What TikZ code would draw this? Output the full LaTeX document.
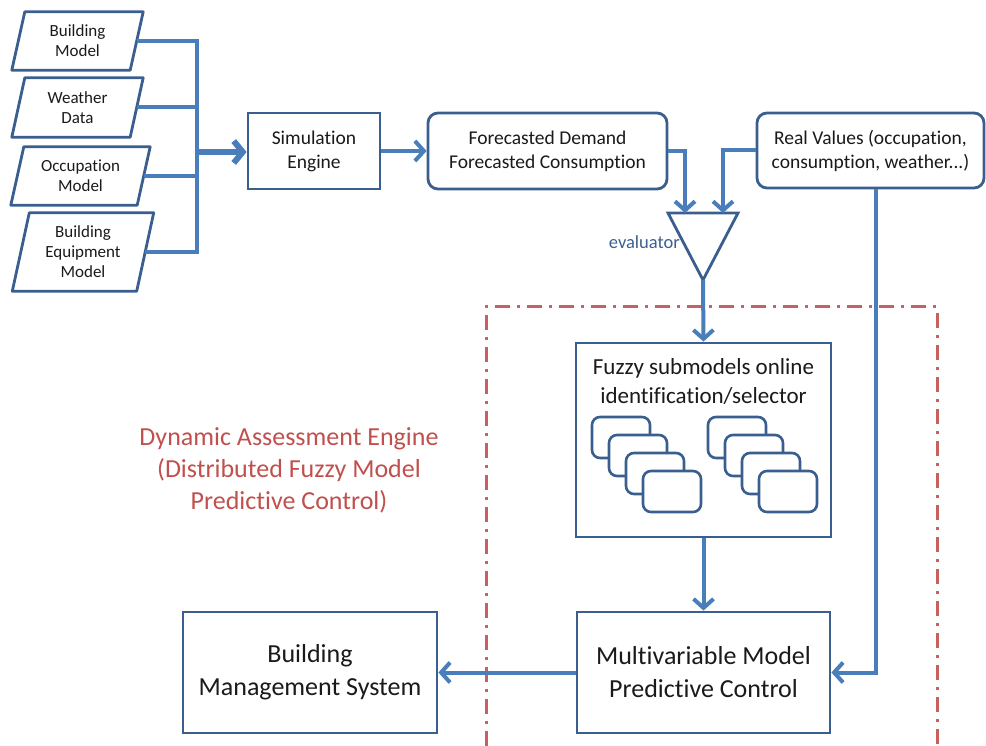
\documentclass[tikz,border=0pt]{standalone}
\usepackage{fontspec}
\setmainfont{Carlito}[Ligatures=NoCommon]
\usetikzlibrary{arrows.meta,calc}
\definecolor{boxc}{HTML}{3A5F8F}
\definecolor{conc}{HTML}{4A7EBB}
\definecolor{txt}{HTML}{1A1A1A}
\definecolor{redc}{HTML}{C0504D}
\definecolor{evc}{HTML}{3B5F8F}
\begin{document}
\begin{tikzpicture}[x=1pt,y=-1pt,
  box/.style={draw=boxc, line width=2.8pt, fill=white, align=center, inner sep=0pt, text=txt},
  rbox/.style={box, rounded corners=10pt},
  pnode/.style={inner sep=0pt, align=center, text=txt, font=\fontsize{17}{20}\selectfont},
  pshape/.style={draw=boxc, line width=2.8pt, line join=round},
  conn/.style={draw=conc, line width=4pt},
  arr/.style={conn, -{Straight Barb[length=9pt,width=20pt]}},
  sub/.style={draw=boxc, line width=2.6pt, fill=white, rounded corners=8pt},
  dadot/.style={draw=redc!90, line width=3pt, dash pattern=on 15pt off 7pt on 3pt off 7pt}
]
\useasboundingbox (0,0) rectangle (986,746);

% input parallelograms
\node[pnode, minimum width=118pt, minimum height=58pt] (bm) at (77.5,41) {Building\\Model};
\node[pnode, minimum width=118pt, minimum height=59pt] (wd) at (77.5,107.5) {Weather\\Data};
\node[pnode, minimum width=126pt, minimum height=58pt] (om) at (80.5,176) {Occupation\\Model};
\node[pnode, minimum width=124pt, minimum height=78pt] (be) at (83,252) {Building\\Equipment\\Model};
\foreach \n/\s in {bm/6.5, wd/6.5, om/6.5, be/8.5}{
  \draw[pshape] ($(\n.south west)+(-\s,0)$) -- ($(\n.north west)+(\s,0)$) -- ($(\n.north east)+(\s,0)$) -- ($(\n.south east)+(-\s,0)$) -- cycle;
}

% bus
\coordinate (busx) at (197,0);
\foreach \n in {bm,wd,om,be}{
  \draw[conn] (\n.east) -- (\n.east -| busx);
}
\draw[conn, line cap=rect] (bm.east -| busx) -- (be.east -| busx);

% main boxes
\node[box, minimum width=132pt, minimum height=76pt, font=\fontsize{19.5}{24}\selectfont] (sim) at (314,151) {Simulation\\Engine};
\node[rbox, minimum width=239pt, minimum height=76pt, font=\fontsize{19.5}{24}\selectfont] (fc) at (547.5,151) {Forecasted Demand\\Forecasted Consumption};
\node[rbox, minimum width=227pt, minimum height=75pt, font=\fontsize{19.5}{24}\selectfont] (rv) at (870.5,150.5) {Real Values (occupation,\\consumption, weather...)};

\coordinate (busmid) at (197,152);
\draw[draw=conc, line width=6pt, -{Straight Barb[length=9pt,width=22pt]}] (busmid) -- (sim.west |- busmid);
\draw[arr] (sim.east) -- (fc.west);

% evaluator
\coordinate (tl) at (668,213);
\coordinate (tr) at (738,213);
\coordinate (ev) at (703,280);
\draw[draw=boxc, line width=2.8pt, line join=miter] (tl) -- (tr) -- (ev) -- cycle;
\node[anchor=east, text=evc, font=\fontsize{18.5}{22}\selectfont, inner sep=0pt] (evl) at (680,242) {evaluator};
\coordinate (in1) at (685,213);
\coordinate (in2) at (723,213);
\draw[arr] (fc.east) -| (in1);
\draw[arr] (rv.west) -| (in2);

% dashed region
\draw[dadot] (486,746) -- (486,307) -- (937,307) -- (937,746);
\node[text=redc, align=center, font=\fontsize{26}{32}\selectfont, inner sep=0pt] (dae) at (289,470) {Dynamic Assessment Engine\\(Distributed Fuzzy Model\\Predictive Control)};

% fuzzy box
\node[box, minimum width=255pt, minimum height=194pt] (fz) at (703.5,440) {};
\node[text=txt, align=center, font=\fontsize{23}{29}\selectfont, inner sep=0pt] (fzl) at (703.5,382) {Fuzzy submodels online\\identification/selector};
\foreach \gx in {592,708}{
  \foreach \k in {0,1,2,3}{
    \draw[sub] ({\gx+17*\k},{417+18*\k}) rectangle ({\gx+58+17*\k},{458+18*\k});
  }
}
\draw[arr] (ev) -- (fz.north);

% bottom boxes
\node[box, minimum width=253pt, minimum height=121pt, font=\fontsize{26}{33}\selectfont] (mpc) at (703.5,672.5) {Multivariable Model\\Predictive Control};
\node[box, minimum width=254pt, minimum height=121pt, font=\fontsize{26}{33}\selectfont] (bms) at (310,672.5) {Building\\Management System};
\draw[arr] (fz.south) -- (mpc.north);
\draw[arr] (mpc.west) -- (bms.east);
\coordinate (rvx) at (876,0);
\draw[arr] (rv.south -| rvx) |- (mpc.east);
\end{tikzpicture}
\end{document}
